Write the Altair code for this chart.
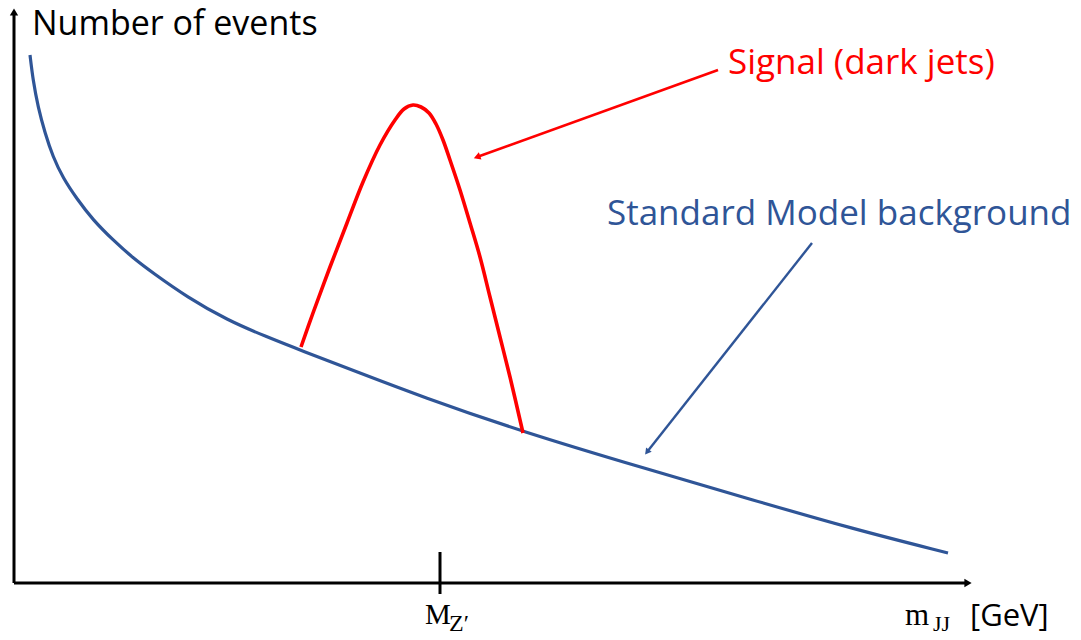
import math
import altair as alt
import pandas as pd

# Schematic coordinates (arbitrary units; origin at the axes crossing)
bg_x = [16, 19, 24, 31, 39, 49, 63, 79, 99, 119, 139, 173, 213, 253, 286, 346, 406, 509, 633, 739, 839, 934]
bg_y = [528, 503, 476, 450, 426, 405, 384, 363, 343, 325, 310, 286, 263, 246, 233, 210, 187, 151, 114, 83, 54, 30]

sig_x = [287, 299, 316, 333, 349, 366, 381, 390, 399, 407, 415, 422, 429, 436, 446, 456, 466, 476, 486, 496, 509]
sig_y = [236, 270, 316, 360, 401, 438, 463, 474, 478, 476, 470, 459, 443, 423, 393, 360, 326, 286, 246, 206, 150]

mz_x = 426          # position of the M_Z' tick
tick_y = [-11, 31]

sig_arrow = [(704, 513), (463, 426)]
bg_arrow = [(798, 340), (633, 131)]

x_axis_end = 958
y_axis_end = 575

BLUE = "#2F5597"
RED = "#FF0000"

X_DOM = [-6, 1059]
Y_DOM = [-49, 575]
W, H = 1065, 624

xs = alt.Scale(domain=X_DOM, nice=False, zero=False)
ys = alt.Scale(domain=Y_DOM, nice=False, zero=False)
X = lambda f: alt.X(f, type="quantitative", scale=xs, axis=None)
Y = lambda f: alt.Y(f, type="quantitative", scale=ys, axis=None)

bg_df = pd.DataFrame({"x": bg_x, "y": bg_y, "o": range(len(bg_x))})
sig_df = pd.DataFrame({"x": sig_x, "y": sig_y, "o": range(len(sig_x))})

bg_line = alt.Chart(bg_df).mark_line(color=BLUE, strokeWidth=3.2, interpolate="basis").encode(
    x=X("x"), y=Y("y"), order="o:O")
sig_line = alt.Chart(sig_df).mark_line(color=RED, strokeWidth=3.6, interpolate="catmull-rom").encode(
    x=X("x"), y=Y("y"), order="o:O")

# axes
axes_df = pd.DataFrame({
    "x": [0, 0, mz_x], "y": [0, 0, tick_y[0]],
    "x2": [x_axis_end - 6, 0, mz_x], "y2": [0, y_axis_end - 6, tick_y[1]],
})
axes = alt.Chart(axes_df).mark_rule(color="black", strokeWidth=3).encode(
    x=X("x"), y=Y("y"), x2="x2:Q", y2="y2:Q")


def ang(p0, p1):
    dx = p1[0] - p0[0]
    dy = p1[1] - p0[1]
    return (math.degrees(math.atan2(dx, dy)) + 360) % 360


heads_df = pd.DataFrame({
    "x": [x_axis_end - 4, 0, sig_arrow[1][0], bg_arrow[1][0]],
    "y": [0, y_axis_end - 4, sig_arrow[1][1], bg_arrow[1][1]],
    "a": [90, 0, ang(*sig_arrow), ang(*bg_arrow)],
    "c": ["black", "black", RED, BLUE],
    "s": [70, 70, 60, 50],
})
heads = alt.Chart(heads_df).mark_point(shape="triangle-up", filled=True, opacity=1, strokeWidth=0).encode(
    x=X("x"), y=Y("y"), angle=alt.Angle("a:Q", scale=None),
    color=alt.Color("c:N", scale=None), size=alt.Size("s:Q", scale=None))

arrows_df = pd.DataFrame({
    "x": [sig_arrow[0][0], bg_arrow[0][0]], "y": [sig_arrow[0][1], bg_arrow[0][1]],
    "x2": [sig_arrow[1][0], bg_arrow[1][0]], "y2": [sig_arrow[1][1], bg_arrow[1][1]],
    "c": [RED, BLUE], "w": [2.6, 2.4],
})
arrows = alt.Chart(arrows_df).mark_rule().encode(
    x=X("x"), y=Y("y"), x2="x2:Q", y2="y2:Q",
    color=alt.Color("c:N", scale=None), strokeWidth=alt.StrokeWidth("w:Q", scale=None))

# labels
lab_text = ["Number of events", "Signal (dark jets)", "Standard Model background", "[GeV]"]
lab_x = [18, 714, 593, 956]
lab_y = [548, 509, 358, -43]
lab_col = ["black", RED, BLUE, "black"]
lab_size = [34, 35, 35, 31]
lab_df = pd.DataFrame({"t": lab_text, "x": lab_x, "y": lab_y, "c": lab_col, "s": lab_size})
labels = alt.Chart(lab_df).mark_text(font="Open Sans", align="left", baseline="alphabetic").encode(
    x=X("x"), y=Y("y"), text="t:N", color=alt.Color("c:N", scale=None), size=alt.Size("s:Q", scale=None))

serif_text = ["M", "Z\u2032", "m", "JJ"]
serif_x = [411, 435, 891, 919]
serif_y = [-41, -48, -42, -48]
serif_size = [29, 24, 31, 22]
serif_df = pd.DataFrame({"t": serif_text, "x": serif_x, "y": serif_y, "s": serif_size})
serif = alt.Chart(serif_df).mark_text(font="Liberation Serif", align="left", baseline="alphabetic",
                                      color="black").encode(
    x=X("x"), y=Y("y"), text="t:N", size=alt.Size("s:Q", scale=None))

chart = alt.layer(axes, bg_line, sig_line, arrows, heads, labels, serif).properties(
    width=W, height=H, padding=0, autosize=alt.AutoSizeParams(type="none")
).configure_view(stroke=None)

chart.save("out.html", embed_options={"renderer": "svg", "actions": False})
